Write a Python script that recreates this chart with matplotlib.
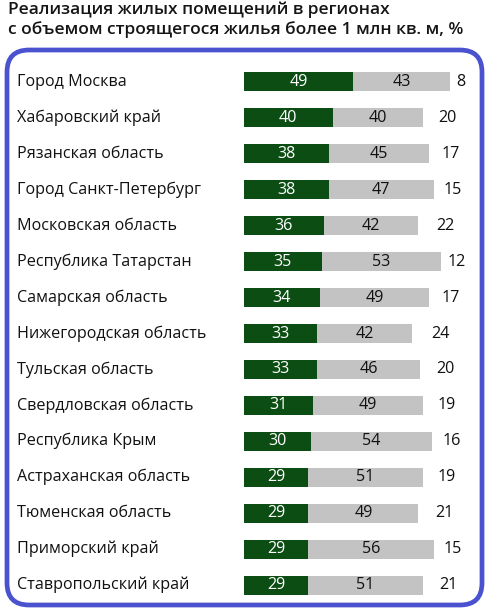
import matplotlib.pyplot as plt
from matplotlib.patches import FancyBboxPatch
import matplotlib.transforms as mtransforms

plt.rcParams['font.family'] = ['Open Sans', 'DejaVu Sans']

regions = [
    "Город Москва", "Хабаровский край", "Рязанская область",
    "Город Санкт-Петербург", "Московская область", "Республика Татарстан",
    "Самарская область", "Нижегородская область", "Тульская область",
    "Свердловская область", "Республика Крым", "Астраханская область",
    "Тюменская область", "Приморский край", "Ставропольский край",
]
sold = [49, 40, 38, 38, 36, 35, 34, 33, 33, 31, 30, 29, 29, 29, 29]
middle = [43, 40, 45, 47, 42, 53, 49, 42, 46, 49, 54, 51, 49, 56, 51]
rest = [8, 20, 17, 15, 22, 12, 17, 24, 20, 19, 16, 19, 21, 15, 21]

title = ("Реализация жилых помещений в регионах\n"
         "с объемом строящегося жилья более 1 млн кв. м, %")

W, H = 490, 612
fig = plt.figure(figsize=(W / 100, H / 100), dpi=100)

# rounded frame
box = FancyBboxPatch((7 / W, 1 - 605 / H), 475 / W, 555 / H,
                     boxstyle="round,pad=0,rounding_size=0.045",
                     transform=fig.transFigure, fill=False,
                     edgecolor='#4a52cf', linewidth=3.4,
                     mutation_aspect=W / H)
fig.patches.append(box)

fig.text(8 / W, 1 - 1 / H, title, ha='left', va='top', fontsize=12.5,
         fontweight='semibold', color='#151515', linespacing=1.25)

ax = fig.add_axes([243.5 / W, 9 / H, 224 / W, 539 / H])
ax.set_xlim(0, 100)
ax.set_ylim(len(regions) - 0.5, -0.5)
ax.axis('off')

ys = list(range(len(regions)))
ax.barh(ys, sold, height=0.53, color='#0b4d12')
ax.barh(ys, middle, left=sold, height=0.53, color='#c3c3c3')

lab = mtransforms.blended_transform_factory(fig.transFigure, ax.transData)
for i, name in enumerate(regions):
    ax.text(17 / W, i, name, transform=lab, ha='left', va='center',
            fontsize=11.6, color='#111111')
    ax.text(sold[i] / 2, i, str(sold[i]), ha='center', va='center',
            fontsize=11.6, color='white')
    ax.text(sold[i] + middle[i] / 2, i, str(middle[i]), ha='center',
            va='center', fontsize=11.6, color='#111111')
    ax.text(sold[i] + middle[i] + rest[i] / 2 + 1, i, str(rest[i]),
            ha='center', va='center', fontsize=11.6, color='#111111')

fig.savefig('out.png', dpi=100)
